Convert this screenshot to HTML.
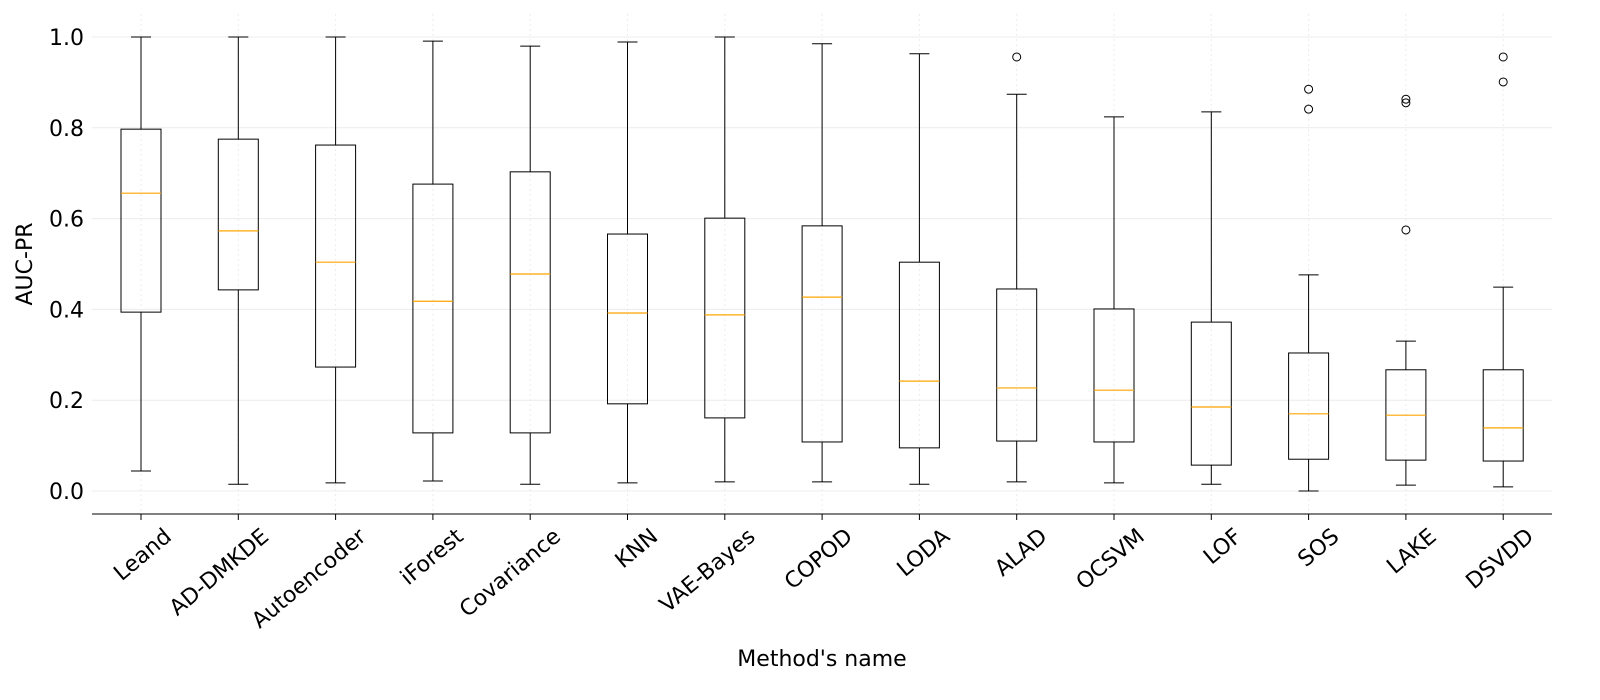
<!DOCTYPE html>
<html><head><meta charset="utf-8"><style>
body{margin:0;background:#fff;}
svg{display:block;font-family:"DejaVu Sans","Liberation Sans",sans-serif;}
</style></head><body>
<svg id="chart" width="1600" height="700" viewBox="0 0 1600 700"></svg>
<script>
const methods=["Leand","AD-DMKDE","Autoencoder","iForest","Covariance","KNN","VAE-Bayes","COPOD","LODA","ALAD","OCSVM","LOF","SOS","LAKE","DSVDD"];
const whiskerLow=[0.044,0.015,0.018,0.022,0.015,0.018,0.02,0.02,0.015,0.02,0.018,0.015,0.0,0.013,0.009];
const q1=[0.394,0.443,0.273,0.128,0.128,0.192,0.161,0.108,0.095,0.11,0.108,0.057,0.07,0.068,0.066];
const medians=[0.656,0.573,0.504,0.418,0.478,0.392,0.388,0.427,0.242,0.227,0.222,0.185,0.17,0.167,0.139];
const q3=[0.797,0.775,0.762,0.676,0.703,0.566,0.601,0.584,0.504,0.445,0.401,0.372,0.304,0.267,0.267];
const whiskerHigh=[1.0,1.0,1.0,0.991,0.98,0.989,1.0,0.985,0.963,0.874,0.824,0.835,0.476,0.33,0.449];
const outliers=[[],[],[],[],[],[],[],[],[],[0.956],[],[],[0.885,0.841],[0.863,0.855,0.575],[0.956,0.901]];
const yTicks=[0,0.2,0.4,0.6,0.8,1.0];
const yTickLabels=["0.0","0.2","0.4","0.6","0.8","1.0"];

const svg=document.getElementById('chart');
const NS="http://www.w3.org/2000/svg";
const y=v=>491-v*454;
const x=i=>141+i*97.3;
function mk(tag,attrs,parent){const e=document.createElementNS(NS,tag);for(const k in attrs)e.setAttribute(k,attrs[k]);(parent||svg).appendChild(e);return e;}

yTicks.forEach((t,i)=>{
  const g=mk('line',{x1:92,x2:1552,y1:y(t),y2:y(t),stroke:'#ececec','stroke-width':1});
  
  
  const l=mk('text',{x:84,y:y(t)+8,'text-anchor':'end','font-size':22,fill:'#000'});
  l.textContent=yTickLabels[i];
  
  
});
methods.forEach((m,i)=>{
  const g=mk('line',{x1:x(i),x2:x(i),y1:14,y2:514,stroke:'#ececec','stroke-width':1,'stroke-dasharray':'2,3'});
  
  
});
const ax=mk('line',{x1:92,x2:1552,y1:514,y2:514,stroke:'#000','stroke-width':1});



methods.forEach((m,i)=>{
  const cx=x(i);
  const grp=mk('g',{});
  
  
  const s={stroke:'#000','stroke-width':1,fill:'none'};
  mk('line',Object.assign({x1:cx,x2:cx,y1:y(whiskerHigh[i]),y2:y(q3[i])},s),grp);
  mk('line',Object.assign({x1:cx,x2:cx,y1:y(q1[i]),y2:y(whiskerLow[i])},s),grp);
  mk('line',Object.assign({x1:cx-10,x2:cx+10,y1:y(whiskerHigh[i]),y2:y(whiskerHigh[i])},s),grp);
  mk('line',Object.assign({x1:cx-10,x2:cx+10,y1:y(whiskerLow[i]),y2:y(whiskerLow[i])},s),grp);
  mk('rect',Object.assign({x:cx-20,y:y(q3[i]),width:40,height:y(q1[i])-y(q3[i])},s),grp);
  mk('line',{x1:cx-20,x2:cx+20,y1:y(medians[i]),y2:y(medians[i]),stroke:'#ffa500','stroke-width':1.2},grp);
  outliers[i].forEach(o=>{
    const c=mk('circle',{cx:cx,cy:y(o),r:4,fill:'none',stroke:'#000','stroke-width':1},grp);
    
    
  });
  const t=mk('line',{x1:cx,x2:cx,y1:514,y2:520,stroke:'#000'});
  
  
  const l=mk('text',{'text-anchor':'end','dominant-baseline':'hanging','font-size':22,fill:'#000',transform:`translate(${cx+22},527) rotate(-40)`});
  l.textContent=m;
  
  
});
const xt=mk('text',{x:822,y:666,'text-anchor':'middle','font-size':22,fill:'#000'});
xt.textContent="Method's name";


const yt=mk('text',{'text-anchor':'middle','font-size':22,fill:'#000',transform:'translate(32,264) rotate(-90)'});
yt.textContent="AUC-PR";


</script>
</body></html>
